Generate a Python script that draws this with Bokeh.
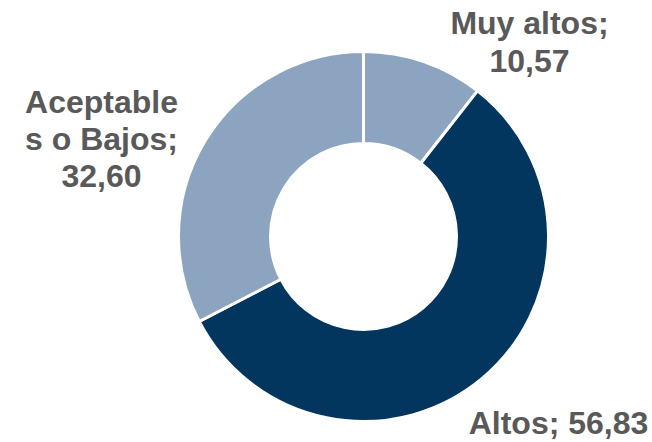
import numpy as np
from bokeh.plotting import figure
from bokeh.models import Range1d, ColumnDataSource
from bokeh.core.properties import value
from bokeh.embed import file_html
from bokeh.resources import INLINE

# ---- data ----
categories = ["Muy altos", "Altos", "Aceptables o Bajos"]
values = [10.57, 56.83, 32.60]
colors = ["#8DA4C1", "#03365F", "#8DA4C1"]
value_labels = ["10,57", "56,83", "32,60"]

# ---- geometry (page pixel coords, y measured from top) ----
W, H = 652, 442
cx, cy_img = 363, 236
r_out, r_in = 185, 93

def Y(y_img):
    return H - y_img

p = figure(width=W, height=H, output_backend="svg", toolbar_location=None,
           x_range=Range1d(0, W), y_range=Range1d(0, H),
           min_border=0, background_fill_color="white", border_fill_color="white")
p.axis.visible = False
p.grid.visible = False
p.outline_line_color = None

vals = np.array(values, dtype=float)
frac = np.concatenate([[0], np.cumsum(vals)]) / vals.sum()
angles = np.pi / 2 - 2 * np.pi * frac
src = ColumnDataSource(dict(start=angles[:-1], end=angles[1:], color=colors,
                            cat=categories, val=values))
p.annular_wedge(x=cx, y=Y(cy_img), inner_radius=r_in, outer_radius=r_out,
                inner_radius_units="screen", outer_radius_units="screen",
                start_angle="start", end_angle="end", direction="clock",
                fill_color="color", line_color="white", line_width=3, source=src)

# ---- labels ----
label_lines = [
    [categories[0] + ";", value_labels[0]],
    [categories[1] + "; " + value_labels[1]],
    ["Aceptable", "s o Bajos;", value_labels[2]],
]
shift = -11
label_pos = [
    (529, [33.5, 71]),
    (558, [433]),
    (101, [112.5, 149.5, 186.5]),
]
xs, ys, ts = [], [], []
for lines, (lx, bys) in zip(label_lines, label_pos):
    for t, by in zip(lines, bys):
        xs.append(lx); ys.append(Y(by + shift)); ts.append(t)
p.text(x=xs, y=ys, text=ts, text_font=value("Liberation Sans"),
       text_font_style="bold", text_font_size="32px", text_color="#595959",
       text_align="center", text_baseline="alphabetic")

open("out.html", "w").write(file_html(p, INLINE))
